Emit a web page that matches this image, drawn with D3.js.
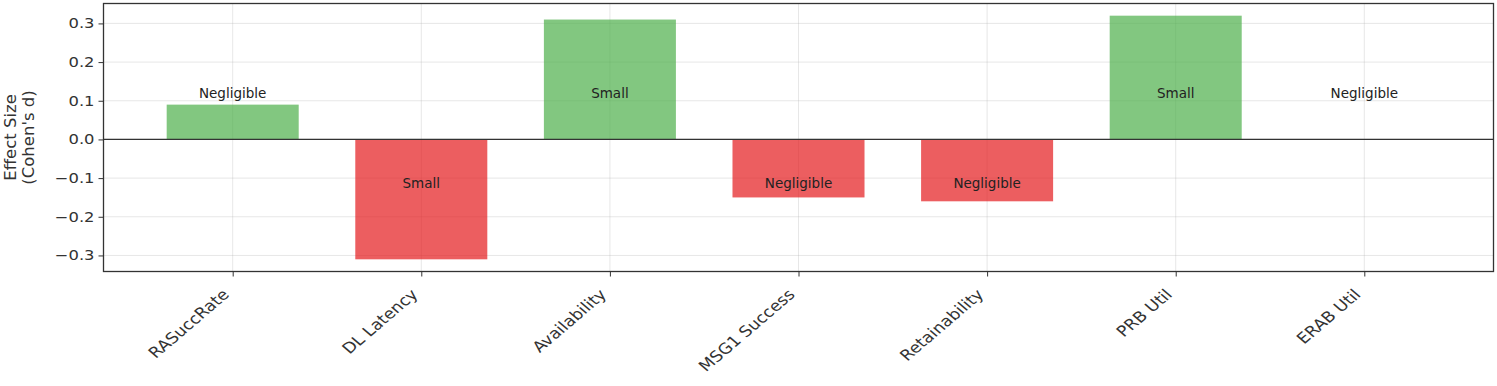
<!DOCTYPE html>
<html>
<head>
<meta charset="utf-8">
<script src="https://cdn.jsdelivr.net/npm/d3@7"></script>
<style>
  body { margin: 0; background: #fff; }
  svg { font-family: "DejaVu Sans", sans-serif; }
</style>
</head>
<body>
<svg></svg>
<script>
const width = 1497, height = 386;
const svg = d3.select("svg").attr("width", width).attr("height", height);

// Data
const metrics = ["RASuccRate", "DL Latency", "Availability", "MSG1 Success", "Retainability", "PRB Util", "ERAB Util"];
const effectSizes = [0.09, -0.31, 0.31, -0.15, -0.16, 0.32, 0.0];
const magnitudes = ["Negligible", "Small", "Small", "Negligible", "Negligible", "Small", "Negligible"];
const yTicks = [-0.3, -0.2, -0.1, 0.0, 0.1, 0.2, 0.3];

const plot = { left: 103.5, right: 1493.5, top: 3.5, bottom: 271.5 };
const barWidth = 0.7;

// Scales (index based, like matplotlib bar positions)
const x = d3.scaleLinear().domain([-0.685, metrics.length - 1 + 0.685]).range([plot.left, plot.right]);
const y = d3.scaleLinear().domain([-0.3415, 0.3515]).range([plot.bottom, plot.top]);

// Grid
const grid = svg.append("g");
grid.selectAll("line.h").data(yTicks).enter().append("line")
    .attr("x1", plot.left).attr("x2", plot.right)
    .attr("y1", d => y(d)).attr("y2", d => y(d))
    .attr("stroke", "#b0b0b0").attr("stroke-opacity", 0.3).attr("stroke-width", 1);
grid.selectAll("line.v").data(metrics).enter().append("line")
    .attr("x1", (d, i) => x(i)).attr("x2", (d, i) => x(i))
    .attr("y1", plot.top).attr("y2", plot.bottom)
    .attr("stroke", "#b0b0b0").attr("stroke-opacity", 0.3).attr("stroke-width", 1);

// Bars
svg.selectAll("rect.bar").data(effectSizes).enter().append("rect")
    .attr("class", "bar")
    .attr("x", (d, i) => x(i - barWidth / 2))
    .attr("width", x(barWidth) - x(0))
    .attr("y", d => y(Math.max(0, d)))
    .attr("height", d => Math.abs(y(d) - y(0)))
    .attr("fill", d => d >= 0 ? "#4daf4a" : "#e41a1c")
    .attr("fill-opacity", 0.7);

// Zero line
svg.append("line")
    .attr("x1", plot.left).attr("x2", plot.right)
    .attr("y1", y(0)).attr("y2", y(0))
    .attr("stroke", "#333").attr("stroke-width", 1.3);

// Magnitude labels
svg.selectAll("text.mag").data(effectSizes).enter().append("text")
    .attr("x", (d, i) => x(i))
    .attr("y", d => d >= 0 ? y(0.1) - 3 : y(-0.1) + 10)
    .attr("text-anchor", "middle")
    .attr("font-size", "13.5px")
    .attr("fill", "#222")
    .text((d, i) => magnitudes[i]);

// Frame
svg.append("rect")
    .attr("x", plot.left).attr("y", plot.top)
    .attr("width", plot.right - plot.left).attr("height", plot.bottom - plot.top)
    .attr("fill", "none").attr("stroke", "#333").attr("stroke-width", 1.3);

// Y axis
const yAxis = svg.append("g")
    .attr("transform", `translate(${plot.left},0)`)
    .call(d3.axisLeft(y).tickValues(yTicks).tickSize(5).tickPadding(4)
        .tickFormat(d => d3.format(".1f")(d).replace("-", "\u2212")));
yAxis.select(".domain").remove();
yAxis.selectAll("line").attr("stroke", "#333");
yAxis.selectAll("text")
    .attr("font-size", "14px").attr("fill", "#333").attr("font-family", "DejaVu Sans")
    .attr("x", -9 / 1.17)
    .attr("transform", "scale(1.17,1)");

// X axis
const xAxis = svg.append("g")
    .attr("transform", `translate(0,${plot.bottom})`)
    .call(d3.axisBottom(x).tickValues(d3.range(metrics.length)).tickSize(5).tickFormat(i => metrics[i]));
xAxis.select(".domain").remove();
xAxis.selectAll("line").attr("stroke", "#333");
xAxis.selectAll("text")
    .attr("font-size", "15px").attr("fill", "#333").attr("font-family", "DejaVu Sans")
    .attr("text-anchor", "end")
    .attr("y", 0).attr("dy", 0)
    .attr("transform", "translate(-3,24) scale(1.17,1) rotate(-45)");

// Y label
const yl = svg.append("text")
    .attr("transform", `translate(10,${(plot.top + plot.bottom) / 2}) rotate(-90)`)
    .attr("text-anchor", "middle")
    .attr("font-size", "16.5px").attr("fill", "#333");
yl.append("tspan").attr("x", 0).attr("dy", "0.35em").text("Effect Size");
yl.append("tspan").attr("x", 0).attr("dy", "1.1em").text("(Cohen's d)");
</script>
</body>
</html>
